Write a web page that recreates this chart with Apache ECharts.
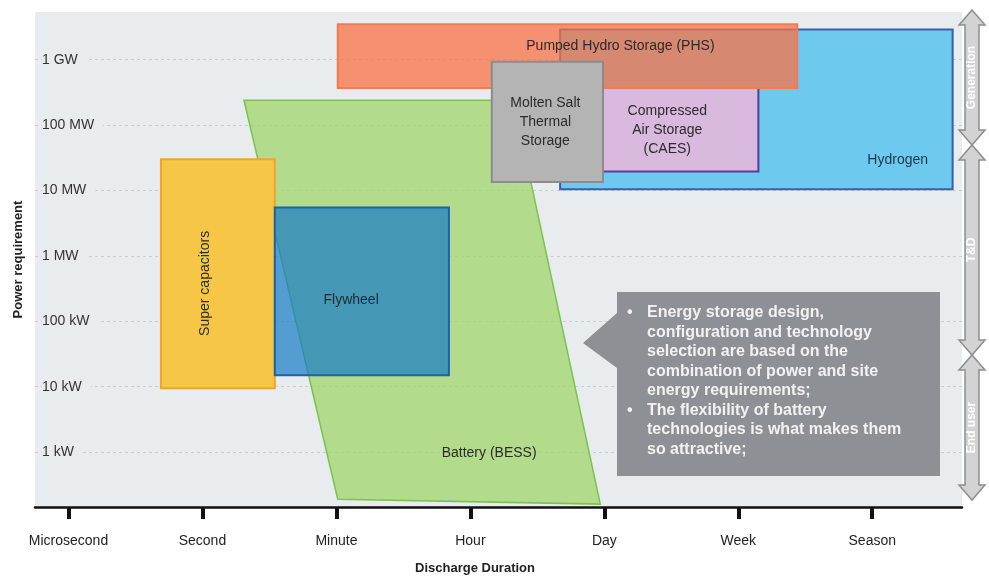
<!DOCTYPE html>
<html>
<head>
<meta charset="utf-8">
<title>Energy storage technologies: power vs discharge duration</title>
<script src="https://cdn.jsdelivr.net/npm/echarts@6/dist/echarts.min.js"></script>
<style>
  html, body { margin: 0; padding: 0; background: #ffffff; }
  #chart { width: 989px; height: 579px; }
</style>
</head>
<body>
<div id="chart"></div>
<script>
// Discharge-duration ticks (x positions 0..6) and power ticks (watts, log scale)
const durationTicks = ['Microsecond', 'Second', 'Minute', 'Hour', 'Day', 'Week', 'Season'];
const powerTicks = [1e3, 1e4, 1e5, 1e6, 1e7, 1e8, 1e9];
const powerTickLabels = ['1 kW', '10 kW', '100 kW', '1 MW', '10 MW', '100 MW', '1 GW'];

// Technologies, listed in drawing order (back to front)
const techNames = [
  'Hydrogen',
  'Compressed\nAir Storage\n(CAES)',
  'Pumped Hydro Storage (PHS)',
  'Battery (BESS)',
  'Super capacitors',
  'Flywheel',
  'Molten Salt\nThermal\nStorage'
];
// Outline corners of each region: discharge duration (tick units) and power (W)
const techDuration = [
  [3.67, 6.60, 6.60, 3.67],
  [3.96, 5.15, 5.15, 3.96],
  [2.01, 5.44, 5.44, 2.01],
  [1.31, 3.32, 3.97, 2.01],
  [0.69, 1.54, 1.54, 0.69],
  [1.54, 2.84, 2.84, 1.54],
  [3.16, 3.99, 3.99, 3.16]
];
const techPower = [
  [2.9e9, 2.9e9, 1.05e7, 1.05e7],
  [3.7e8, 3.7e8, 1.95e7, 1.95e7],
  [3.5e9, 3.5e9, 3.7e8, 3.7e8],
  [2.4e8, 2.4e8, 160, 190],
  [3.0e7, 3.0e7, 9.5e3, 9.5e3],
  [5.5e6, 5.5e6, 1.5e4, 1.5e4],
  [9.3e8, 9.3e8, 1.35e7, 1.35e7]
];

// Where each region's caption sits (same axis units) and whether it is vertical
const captionAt = [
  [6.19, 2.9e7], [4.47, 8.3e7], [4.12, 1.6e9], [3.14, 960],
  [1.02, 3.8e5], [2.11, 2.1e5], [3.56, 1.1e8]
];
const captionVertical = [false, false, false, false, true, false, false];

// Region styling
const techStyle = [
  { fill: '#6ec9ee', stroke: '#3a5ea8', lineWidth: 2, text: '#1e3550' },
  { fill: '#dab9df', stroke: '#5b3b9c', lineWidth: 2, text: '#2b2b2b' },
  { fill: 'rgba(249,115,70,0.75)', stroke: '#f07c50', lineWidth: 2, text: '#2b2b2b' },
  { fill: 'rgba(156,212,98,0.7)', stroke: '#7cc250', lineWidth: 1.5, text: '#2b2b2b' },
  { fill: '#f6c646', stroke: '#f0a430', lineWidth: 2, text: '#2b2b2b' },
  { fill: 'rgba(22,124,200,0.7)', stroke: '#1d62aa', lineWidth: 2, text: '#1f2a33' },
  { fill: '#b4b4b4', stroke: '#8c8c8c', lineWidth: 2, text: '#2b2b2b' }
];

const FONT = '"Liberation Sans", Arial, sans-serif';
const TOP_Z = 100;
const chart = echarts.init(document.getElementById('chart'), null, { renderer: 'canvas' });

// Vertical double-headed arrows on the right edge (application segments)
function doubleArrow(cx, y0, y1, label) {
  const sw = 7, hw = 13, hl = 15;
  return {
    type: 'group',
    children: [
      {
        type: 'polygon', z: TOP_Z,
        shape: { points: [
          [cx, y0], [cx + hw, y0 + hl], [cx + sw, y0 + hl], [cx + sw, y1 - hl], [cx + hw, y1 - hl],
          [cx, y1], [cx - hw, y1 - hl], [cx - sw, y1 - hl], [cx - sw, y0 + hl], [cx - hw, y0 + hl]
        ] },
        style: { fill: '#d3d3d3', stroke: '#8e8e8e', lineWidth: 1.5 }
      },
      {
        type: 'text', z: TOP_Z + 1,
        x: cx, y: (y0 + y1) / 2, rotation: Math.PI / 2,
        style: { text: label, x: 0, y: 0, align: 'center', verticalAlign: 'middle',
                 fill: '#ffffff', font: 'bold 12px ' + FONT }
      }
    ]
  };
}

// Callout box with a pointer on its left side
const calloutLines1 = ['Energy storage design,', 'configuration and technology', 'selection are based on the',
  'combination of power and site', 'energy requirements;'];
const calloutLines2 = ['The flexibility of battery', 'technologies is what makes them', 'so attractive;'];
const lh = 19.5, firstLine = 313;
const calloutFont = 'bold 16px ' + FONT;
const callout = {
  type: 'group',
  children: [
    {
      type: 'polygon', z: TOP_Z,
      shape: { points: [[617, 292], [940, 292], [940, 476], [617, 476], [617, 368], [583, 343], [617, 313]] },
      style: { fill: '#8d9195' }
    },
    { type: 'text', z: TOP_Z + 1, style: { text: '•', x: 627, y: firstLine, verticalAlign: 'middle', fill: '#f2f2f2', font: calloutFont } },
    { type: 'text', z: TOP_Z + 1, style: { text: calloutLines1.join('\n'), x: 647, y: firstLine - lh / 2, lineHeight: lh,
      verticalAlign: 'top', fill: '#f2f2f2', font: calloutFont } },
    { type: 'text', z: TOP_Z + 1, style: { text: '•', x: 627, y: firstLine + lh * 5, verticalAlign: 'middle', fill: '#f2f2f2', font: calloutFont } },
    { type: 'text', z: TOP_Z + 1, style: { text: calloutLines2.join('\n'), x: 647, y: firstLine + lh * 5 - lh / 2, lineHeight: lh,
      verticalAlign: 'top', fill: '#f2f2f2', font: calloutFont } }
  ]
};

const option = {
  animation: false,
  backgroundColor: '#ffffff',
  textStyle: { fontFamily: FONT },
  title: {
    text: 'Discharge Duration',
    left: 470, top: 557, textAlign: 'center',
    textStyle: { fontSize: 13, fontWeight: 'bold', color: '#222', fontFamily: FONT }
  },
  grid: {
    left: 35, right: 27, top: 12, bottom: 72,
    show: true, backgroundColor: '#e8ecee', borderWidth: 0
  },
  xAxis: {
    type: 'value',
    min: -0.25, max: 6.67,
    axisLine: { show: true, onZero: false, lineStyle: { color: '#111', width: 2.5 } },
    axisTick: { show: true, customValues: durationTicks.map((_, i) => i), length: 12,
                lineStyle: { color: '#111', width: 4 } },
    axisLabel: { customValues: durationTicks.map((_, i) => i), margin: 27, fontSize: 14, color: '#222',
                 formatter: v => durationTicks[Math.round(v)] },
    splitLine: { show: false }
  },
  yAxis: {
    type: 'log', logBase: 10,
    min: Math.pow(10, 2.16), max: Math.pow(10, 9.73),
    name: 'Power requirement', nameLocation: 'middle', nameGap: 10, nameRotate: 90,
    nameTextStyle: { fontSize: 13, fontWeight: 'bold', color: '#222' },
    axisLine: { show: false },
    axisTick: { show: false, customValues: powerTicks },
    axisLabel: {
      inside: true, margin: 7, fontSize: 14, color: '#333',
      customValues: powerTicks,
      backgroundColor: '#e8ecee', padding: [2, 9, 2, 0],
      formatter: v => powerTickLabels[powerTicks.findIndex(p => Math.abs(Math.log10(p) - Math.log10(v)) < 0.01)]
    },
    splitLine: { show: true, lineStyle: { color: '#cbd0d3', type: [3, 3], width: 1 } }
  },
  series: [{
    type: 'custom',
    coordinateSystem: 'cartesian2d',
    clip: false,
    z: 3,
    data: techNames.map((_, i) => [techDuration[i][0], techPower[i][0]]),
    renderItem: function (params, api) {
      const i = params.dataIndex;
      const pts = techDuration[i].map((d, k) => api.coord([d, techPower[i][k]]));
      const st = techStyle[i];
      const c = api.coord(captionAt[i]);
      return {
        type: 'group',
        children: [
          { type: 'polygon', shape: { points: pts },
            style: { fill: st.fill, stroke: st.stroke, lineWidth: st.lineWidth } },
          { type: 'text', x: c[0], y: c[1], rotation: captionVertical[i] ? Math.PI / 2 : 0,
            style: { text: techNames[i], x: 0, y: 0, align: 'center', verticalAlign: 'middle',
                     lineHeight: 19, fill: st.text, font: '14px ' + FONT } }
        ]
      };
    }
  }],
  graphic: [
    callout,
    doubleArrow(972, 10, 145, 'Generation'),
    doubleArrow(972, 145, 355, 'T&D'),
    doubleArrow(972, 355, 500, 'End user')
  ]
};

chart.setOption(option);
</script>
</body>
</html>
